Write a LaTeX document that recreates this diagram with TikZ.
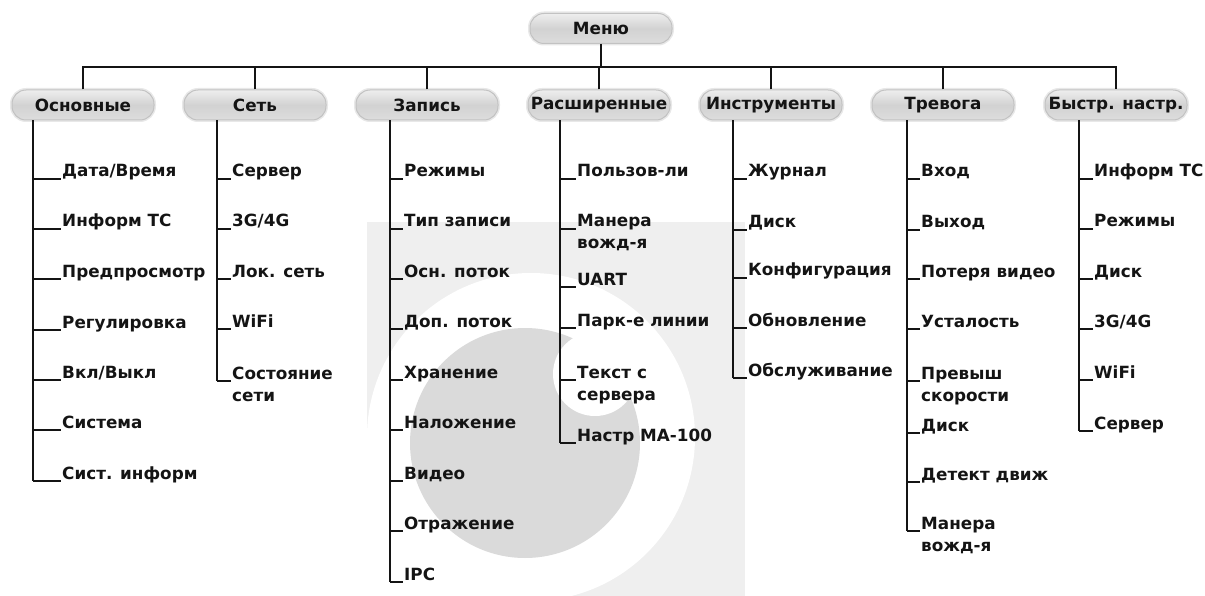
\documentclass[tikz,border=0pt]{standalone}
\usepackage{fontspec}
\setmainfont{DejaVu Sans}
\definecolor{wmlight}{HTML}{EFEFEF}
\definecolor{wmdisc}{HTML}{DADADA}
\definecolor{ink}{HTML}{141414}
\definecolor{capTop}{HTML}{EEEEEE}
\definecolor{capMid}{HTML}{D2D2D2}
\definecolor{capBot}{HTML}{DDDDDD}
\definecolor{capRim}{HTML}{C2C2C2}
\definecolor{capGlow}{HTML}{E8E8E8}
\newcommand\two[2]{\begin{tabular}[t]{@{}l@{}}#1\\#2\end{tabular}}
\newcommand\leaf[5]{%
  \node[leaf] (#1) at (#4-1,#3-2) {#5};
  \coordinate (#1s) at (#2,#3);
  \draw[conn] (#1s) -- (#1s -| #1.base west);}
\tikzset{
  conn/.style={draw=ink, line width=1.3pt},
  txt/.style={font=\fontsize{16.8}{22}\selectfont\bfseries, text=ink},
  leaf/.style={txt, anchor=base west, inner xsep=1pt, inner ysep=0pt},
  cat/.style={txt, rounded corners=14pt, minimum width=142pt, minimum height=30pt,
    inner sep=0pt, draw=capRim, line width=1pt,
    top color=capTop, bottom color=capBot, middle color=capMid,
    preaction={draw=capGlow, line width=4pt}},
}
\begin{document}
\begin{tikzpicture}[x=1pt,y=-1pt]
\useasboundingbox (0,0) rectangle (1205,596);
% watermark
\fill[wmlight] (367,222) rectangle (745,596);
\fill[white] (531,437) circle[radius=164pt];
\fill[white] (367,437) rectangle (531,596);
\fill[wmdisc] (525,443) circle[radius=115pt];
\fill[white] (595,374) circle[radius=42pt];
% root and categories
\node[cat] (menu) at (601,28.5) {Меню};
\node[cat] (c1) at (83,105) {Основные};
\node[cat] (c2) at (255,105) {Сеть};
\node[cat] (c3) at (427,105) {Запись};
\node[cat] (c4) at (599,105) {Расширенные};
\node[cat] (c5) at (771,105) {Инструменты};
\node[cat] (c6) at (943,105) {Тревога};
\node[cat] (c7) at (1116,105) {Быстр. настр.};
\coordinate (bus) at (601,67);
\draw[conn] (menu.south) -- (bus);
\draw[conn] (c1.north) -- (c1.north |- bus) -- (c7.north |- bus) -- (c7.north);
\foreach \c in {c2,c3,c4,c5,c6} \draw[conn] (\c.north) -- (\c.north |- bus);
% column 1
\leaf{a1}{33}{179}{62}{Дата/Время}
\leaf{a2}{33}{229}{62}{Информ ТС}
\leaf{a3}{33}{279}{62}{Предпросмотр}
\leaf{a4}{33}{330}{62}{Регулировка}
\leaf{a5}{33}{380}{62}{Вкл/Выкл}
\leaf{a6}{33}{430}{62}{Система}
\leaf{a7}{33}{481}{62}{Сист. информ}
\draw[conn] (c1.south -| a7s) -- (a7s);
% column 2
\leaf{b1}{217}{179}{232}{Сервер}
\leaf{b2}{217}{229}{232}{3G/4G}
\leaf{b3}{217}{279}{232}{Лок. сеть}
\leaf{b4}{217}{329}{232}{WiFi}
\leaf{b5}{217}{381}{232}{\two{Состояние}{сети}}
\draw[conn] (c2.south -| b5s) -- (b5s);
% column 3
\leaf{d1}{390}{179}{404}{Режимы}
\leaf{d2}{390}{229}{404}{Тип записи}
\leaf{d3}{390}{279}{404}{Осн. поток}
\leaf{d4}{390}{329}{404}{Доп. поток}
\leaf{d5}{390}{380}{404}{Хранение}
\leaf{d6}{390}{430}{404}{Наложение}
\leaf{d7}{390}{481}{404}{Видео}
\leaf{d8}{390}{531}{404}{Отражение}
\leaf{d9}{390}{582}{404}{IPC}
\draw[conn] (c3.south -| d9s) -- (d9s);
% column 4
\leaf{e1}{560}{179}{577}{Пользов-ли}
\leaf{e2}{560}{229}{577}{\two{Манера}{вожд-я}}
\leaf{e3}{560}{287}{577}{UART}
\leaf{e4}{560}{328}{577}{Парк-е линии}
\leaf{e5}{560}{380}{577}{\two{Текст с}{сервера}}
\leaf{e6}{560}{443}{577}{Настр МА-100}
\draw[conn] (c4.south -| e6s) -- (e6s);
% column 5
\leaf{f1}{733}{179}{748}{Журнал}
\leaf{f2}{733}{230}{748}{Диск}
\leaf{f3}{733}{278}{748}{Конфигурация}
\leaf{f4}{733}{328}{748}{Обновление}
\leaf{f5}{733}{378}{748}{Обслуживание}
\draw[conn] (c5.south -| f5s) -- (f5s);
% column 6
\leaf{g1}{907}{179}{921}{Вход}
\leaf{g2}{907}{230}{921}{Выход}
\leaf{g3}{907}{279}{921}{Потеря видео}
\leaf{g4}{907}{329}{921}{Усталость}
\leaf{g5}{907}{381}{921}{\two{Превыш}{скорости}}
\leaf{g6}{907}{433}{921}{Диск}
\leaf{g7}{907}{482}{921}{Детект движ}
\leaf{g8}{907}{531}{921}{\two{Манера}{вожд-я}}
\draw[conn] (c6.south -| g8s) -- (g8s);
% column 7
\leaf{h1}{1079}{179}{1094}{Информ ТС}
\leaf{h2}{1079}{229}{1094}{Режимы}
\leaf{h3}{1079}{279}{1094}{Диск}
\leaf{h4}{1079}{329}{1094}{3G/4G}
\leaf{h5}{1079}{380}{1094}{WiFi}
\leaf{h6}{1079}{431}{1094}{Сервер}
\draw[conn] (c7.south -| h6s) -- (h6s);
\end{tikzpicture}
\end{document}
